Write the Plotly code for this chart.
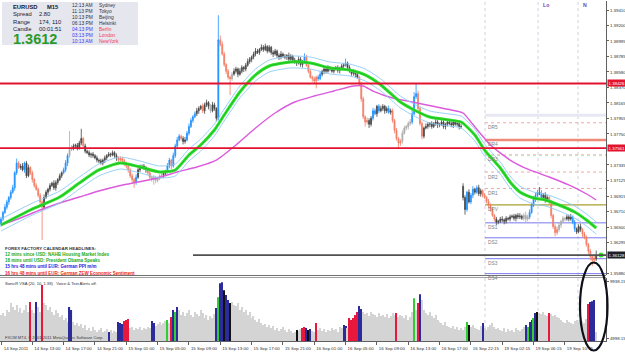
import plotly.graph_objects as go

# ---------------- data ----------------
close = [
    1.3661, 1.3670, 1.3677, 1.3684, 1.3690, 1.3697, 1.3703, 1.3723, 1.3736, 1.3730,
    1.3732, 1.3727, 1.3736, 1.3719, 1.3730, 1.3723, 1.3714, 1.3706, 1.3701, 1.3693,
    1.3684, 1.3677, 1.3690, 1.3697, 1.3701, 1.3706, 1.3709, 1.3703, 1.3710, 1.3714,
    1.3719, 1.3723, 1.3727, 1.3736, 1.3746, 1.3754, 1.3756, 1.3759, 1.3760, 1.3756,
    1.3763, 1.3769, 1.3759, 1.3752, 1.3750, 1.3747, 1.3748, 1.3746, 1.3743, 1.3740,
    1.3739, 1.3736, 1.3740, 1.3743, 1.3746, 1.3748, 1.3747, 1.3750, 1.3746, 1.3743,
    1.3740, 1.3742, 1.3739, 1.3736, 1.3732, 1.3727, 1.3719, 1.3714, 1.3710, 1.3717,
    1.3727, 1.3730, 1.3732, 1.3730, 1.3727, 1.3723, 1.3717, 1.3714, 1.3717, 1.3713,
    1.3715, 1.3719, 1.3720, 1.3722, 1.3724, 1.3732, 1.3740, 1.3732, 1.3746, 1.3759,
    1.3767, 1.3772, 1.3769, 1.3765, 1.3767, 1.3776, 1.3785, 1.3793, 1.3798, 1.3802,
    1.3806, 1.3809, 1.3812, 1.3806, 1.3814, 1.3817, 1.3812, 1.3806, 1.3814, 1.3809,
    1.3796, 1.3901, 1.3895, 1.3882, 1.3868, 1.3859, 1.3851, 1.3849, 1.3855, 1.3859,
    1.3862, 1.3855, 1.3859, 1.3864, 1.3862, 1.3867, 1.3872, 1.3875, 1.3878, 1.3882,
    1.3886, 1.3884, 1.3888, 1.3891, 1.3888, 1.3892, 1.3886, 1.3891, 1.3884, 1.3882,
    1.3886, 1.3880, 1.3878, 1.3882, 1.3879, 1.3878, 1.3880, 1.3875, 1.3879, 1.3874,
    1.3872, 1.3870, 1.3875, 1.3868, 1.3872, 1.3878, 1.3867, 1.3859, 1.3851, 1.3849,
    1.3846, 1.3851, 1.3849, 1.3855, 1.3859, 1.3862, 1.3859, 1.3864, 1.3862, 1.3859,
    1.3862, 1.3864, 1.3860, 1.3863, 1.3866, 1.3867, 1.3870, 1.3864, 1.3859, 1.3856,
    1.3859, 1.3855, 1.3851, 1.3842, 1.3822, 1.3798, 1.3791, 1.3793, 1.3788, 1.3796,
    1.3806, 1.3802, 1.3812, 1.3806, 1.3809, 1.3812, 1.3806, 1.3809, 1.3804, 1.3806,
    1.3793, 1.3780, 1.3769, 1.3763, 1.3765, 1.3776, 1.3783, 1.3785, 1.3789, 1.3791,
    1.3802, 1.3825, 1.3829, 1.3809, 1.3789, 1.3772, 1.3783, 1.3785, 1.3788, 1.3789,
    1.3785, 1.3789, 1.3791, 1.3787, 1.3788, 1.3791, 1.3785, 1.3788, 1.3791, 1.3789,
    1.3787, 1.3791, 1.3788, 1.3789, 1.3785, 1.3785, 1.3690, 1.3674, 1.3697, 1.3684,
    1.3693, 1.3701, 1.3697, 1.3703, 1.3695, 1.3699, 1.3693, 1.3690, 1.3685, 1.3680,
    1.3674, 1.3666, 1.3661, 1.3657, 1.3658, 1.3661, 1.3660, 1.3658, 1.3662, 1.3661,
    1.3664, 1.3665, 1.3662, 1.3666, 1.3664, 1.3665, 1.3662, 1.3666, 1.3661, 1.3664,
    1.3670, 1.3680, 1.3688, 1.3693, 1.3697, 1.3695, 1.3690, 1.3693, 1.3686, 1.3690,
    1.3684, 1.3666, 1.3651, 1.3643, 1.3647, 1.3653, 1.3658, 1.3662, 1.3661, 1.3664,
    1.3661, 1.3664, 1.3657, 1.3648, 1.3644, 1.3651, 1.3647, 1.3641, 1.3637, 1.3627,
    1.3618, 1.3611, 1.3606, 1.3608, 1.3613,
]
first_open = 1.3655
gap_open = {236: 1.3705}

wick_up_pips = [
    3, 2, 4, 3, 2, 3, 4, 2, 6, 3,   3, 4, 2, 3, 4, 2, 3, 2, 3, 2,
    3, 2, 4, 3, 2, 3, 2, 4, 3, 2,   3, 2, 3, 4, 3, 25, 4, 3, 2, 3,
    3, 13, 2, 3, 2, 3, 2, 3, 2, 3,  2, 3, 2, 3, 2, 3, 2, 3, 2, 3,
    2, 3, 2, 3, 2, 3, 2, 3, 2, 4,   3, 4, 2, 3, 2, 3, 4, 2, 3, 2,
    3, 2, 3, 2, 3, 4, 3, 2, 4, 3,   4, 3, 2, 3, 4, 3, 4, 3, 2, 3,
    4, 3, 2, 4, 3, 4, 2, 3, 4, 3,   2, 33, 6, 4, 3, 2, 3, 2, 3, 4,
    3, 2, 4, 3, 2, 3, 4, 3, 2, 3,   4, 3, 2, 4, 3, 4, 2, 3, 2, 3,
    3, 2, 3, 4, 2, 3, 2, 4, 3, 2,   3, 2, 4, 3, 2, 5, 3, 2, 3, 2,
    3, 2, 3, 4, 2, 3, 2, 3, 2, 3,   3, 2, 3, 2, 3, 3, 6, 2, 3, 2,
    3, 2, 3, 2, 3, 3, 2, 4, 3, 3,   4, 3, 2, 3, 4, 3, 2, 3, 4, 3,
    3, 2, 3, 2, 3, 4, 3, 2, 3, 4,   5, 6, 13, 4, 3, 3, 2, 4, 3, 2,
    3, 2, 4, 3, 2, 3, 4, 2, 3, 2,   3, 2, 3, 4, 2, 3, 4, 3, 2, 4,
    3, 4, 2, 3, 4, 3, 2, 3, 2, 3,   2, 3, 2, 3, 2, 3, 4, 2, 3, 2,
    3, 2, 3, 2, 3, 4, 2, 3, 5, 3,   4, 3, 4, 3, 3, 7, 5, 3, 4, 3,
    2, 3, 2, 3, 4, 3, 2, 3, 2, 3,   3, 4, 2, 3, 2, 3, 4, 2, 3, 2,
    2, 3, 2, 4, 6,
]
wick_dn_pips = [
    4, 3, 2, 3, 4, 3, 2, 4, 3, 2,   3, 2, 4, 3, 2, 3, 4, 3, 2, 3,
    4, 44, 3, 2, 4, 3, 2, 3, 4, 3,  2, 3, 2, 3, 4, 3, 2, 3, 4, 3,
    2, 3, 4, 3, 2, 3, 4, 3, 2, 3,   3, 2, 3, 4, 3, 2, 3, 2, 3, 4,
    3, 2, 3, 4, 3, 4, 3, 4, 7, 3,   2, 3, 2, 3, 4, 3, 2, 3, 7, 4,
    3, 2, 3, 4, 3, 2, 3, 4, 2, 3,   3, 2, 3, 4, 3, 2, 3, 2, 3, 2,
    3, 4, 2, 3, 4, 3, 4, 3, 2, 3,   4, 3, 3, 2, 3, 4, 3, 22, 3, 2,
    3, 4, 2, 3, 4, 3, 2, 3, 4, 3,   3, 2, 3, 2, 3, 2, 3, 2, 3, 4,
    2, 3, 4, 3, 2, 3, 4, 3, 2, 3,   3, 4, 2, 3, 4, 3, 2, 3, 2, 4,
    3, 10, 3, 2, 3, 4, 3, 2, 3, 2,  3, 2, 3, 4, 2, 3, 2, 3, 2, 3,
    3, 4, 2, 3, 4, 3, 6, 3, 5, 3,   3, 2, 4, 3, 2, 3, 4, 3, 2, 3,
    3, 4, 3, 8, 4, 3, 2, 3, 4, 3,   3, 2, 3, 4, 3, 4, 3, 2, 3, 4,
    3, 2, 3, 4, 3, 2, 3, 4, 3, 2,   3, 4, 2, 3, 4, 3, 4, 7, 3, 2,
    3, 4, 3, 2, 3, 4, 3, 2, 3, 4,   3, 2, 3, 4, 3, 2, 3, 4, 3, 2,
    3, 2, 3, 4, 3, 3, 2, 3, 4, 3,   3, 2, 3, 4, 3, 2, 3, 4, 3, 2,
    3, 4, 3, 5, 3, 3, 4, 2, 3, 2,   3, 2, 3, 4, 3, 2, 3, 4, 3, 3,
    4, 5, 8, 4, 3,
]
# candle colour class: b=blue, r=salmon, k=dark, g=grey
candle_style = "".join([
    "bbbbbbbbbr", "kkbkkrrrrr", "rrkkkkkkkk", "kkbbbggkkk", "kkrkkkkkkk",
    "kkkkkkkkkk", "rrrrrrrrrb", "kkkkkrrggg", "gggkkbbrbb", "bbrkkbbbbb",
    "kkkrkkkgkk", "kbrrrrrrgk", "kkkkkkkkkk", "kkkkkkkkkk", "kkkkkkkkkk",
    "kkkkkbrrrr", "rrbbkkkkkk", "kkkkkkbkkk", "kkkrrrrrkk", "bbkbkkkkbk",
    "rrrrrggggg", "bbbrrrkkkk", "kkkkkkkkkk", "kkkkkkkkbk", "bbkbkkrrrr",
    "rrrkkkkkkk", "kkkkkkkggg", "bbbbbkbkkk", "rrrrrggggk", "kkbbkkkrrr",
    "rrrrk",
])

# SonicR "dragon" (green, EMA-style) and trend line (magenta), read at sample bars
dragon_bars = [0, 15, 30, 40, 50, 61, 71, 81, 89, 96, 102, 109, 114, 122, 130, 137, 148, 158,
               168, 178, 186, 194, 204, 211, 219, 229, 235, 242, 247, 255, 260, 265, 272, 278,
               285, 293, 299, 304]
dragon_vals = [1.36531, 1.36732, 1.36906, 1.37093, 1.37268, 1.37361, 1.37308, 1.37241, 1.37268,
               1.37469, 1.37602, 1.37803, 1.38004, 1.38312, 1.38540, 1.38660, 1.38714, 1.38700,
               1.38634, 1.38607, 1.38540, 1.38406, 1.38178, 1.38071, 1.37977, 1.37937, 1.37910,
               1.37736, 1.37535, 1.37294, 1.37107, 1.36973, 1.36893, 1.36866, 1.36799, 1.36705,
               1.36598, 1.36491]
trend_bars = [0, 10, 20, 30, 40, 50, 60, 70, 80, 90, 100, 110, 120, 130, 140, 150, 160, 170,
              180, 185, 190, 200, 210, 220, 230, 236, 240, 250, 260, 270, 280, 290, 300, 304]
trend_vals = [1.36531, 1.36625, 1.36732, 1.36826, 1.36906, 1.36986, 1.37053, 1.37107, 1.37160,
              1.37241, 1.37308, 1.37401, 1.37602, 1.37830, 1.38031, 1.38178, 1.38258, 1.38325,
              1.38392, 1.38392, 1.38325, 1.38232, 1.38178, 1.38125, 1.38071, 1.38031, 1.37910,
              1.37602, 1.37401, 1.37268, 1.37174, 1.37067, 1.36933, 1.36866]

volume = [
    7010, 7180, 6920, 7440, 7270, 8050, 7700, 7440, 7880, 7270,
    7610, 7180, 7440, 7880, 7270, 8140, 7440, 7180, 8140, 7700,
    7270, 9620, 8050, 7880, 7440, 7700, 7270, 7010, 7440, 7180,
    6830, 7010, 6570, 6740, 6400, 7700, 7440, 6400, 6130, 6310,
    6050, 6220, 5870, 6130, 5700, 5870, 5610, 5960, 5700, 5530,
    5700, 5870, 5530, 5610, 5790, 5530, 5700, 5440, 5610, 5530,
    6400, 6310, 6220, 6480, 6570, 6660, 5870, 5960, 5700, 5870,
    5790, 5960, 5700, 5870, 5790, 5960, 5870, 6480, 6310, 6050,
    6220, 6400, 6130, 6310, 6480, 6570, 6310, 6830, 7440, 7270,
    7700, 7440, 7010, 7270, 6920, 7180, 7440, 7010, 6830, 7270,
    7090, 6920, 7440, 7180, 6740, 7010, 6570, 6920, 6740, 7090,
    7610, 8570, 9790, 9880, 9180, 8750, 8310, 8050, 8140, 7880,
    7790, 8050, 7440, 7700, 7270, 7440, 7010, 7270, 6740, 6920,
    6570, 6400, 6660, 6310, 6130, 6220, 5960, 6130, 5870, 6050,
    5700, 5870, 5610, 5790, 5960, 5700, 5530, 5790, 5610, 5440,
    5530, 5700, 5610, 5790, 5870, 5960, 5870, 5700, 5790, 5610,
    5530, 6310, 5700, 5870, 5610, 5790, 5530, 5700, 5610, 5870,
    5700, 5790, 5530, 5960, 5870, 6130, 6050, 5870, 6740, 6570,
    6740, 7010, 7270, 7790, 7530, 7270, 7090, 7180, 6920, 7270,
    7090, 7010, 6830, 7180, 6920, 7010, 6830, 7090, 6740, 6920,
    7180, 7010, 7180, 6830, 7010, 6920, 6740, 7010, 6570, 6830,
    7270, 8480, 7440, 8050, 8830, 8310, 7440, 7180, 7010, 7270,
    6920, 6740, 7010, 6570, 6400, 6310, 6130, 6400, 6050, 5960,
    5870, 6050, 5790, 5960, 5700, 5870, 5700, 5960, 6400, 6130,
    5960, 6130, 5870, 5790, 5700, 6050, 6310, 5870, 5700, 5960,
    6130, 6310, 5960, 5790, 5870, 5700, 5610, 5870, 5530, 5790,
    5610, 5700, 5530, 5870, 5700, 5610, 5790, 5960, 6130, 5960,
    6400, 6570, 6740, 7180, 7270, 7180, 7090, 7270, 7010, 6920,
    7180, 7090, 6920, 7010, 6830, 6740, 6570, 6400, 6310, 6570,
    6400, 6310, 6220, 6480, 6570, 6400, 6570, 6480, 6310, 6660,
    7960, 8140, 8220, 8310, 5530,
]
# volume colour class: g=grey, r=red, b=blue, G=green, k=black
volume_style = "".join([
    "gggggggggg", "gggggrggbg", "grgggggggg", "gggggbbggg", "gggggggggg",
    "gggggbgggg", "bbbrrrgggg", "gggggggbbg", "gggggGgrbG", "bggggggggg",
    "gggggggggg", "bGbbkbbkgg", "gggggggggg", "gggggggggg", "gggggggggg",
    "gkggrrbkbg", "grgggggggg", "gggggbbgrr", "rrrbbggggg", "gggggggggg",
    "ggrggggggg", "gGgrbggggg", "gggggggggg", "ggggggggGk", "ggggggbggg",
    "gggggggggg", "ggggggggbG", "bbGbkggggg", "rggggggggg", "gggggggggg",
    "rbbbg",
])

time_labels = ["14 Sep 2011", "14 Sep 13:00", "14 Sep 17:00", "14 Sep 21:00",
               "15 Sep 01:00", "15 Sep 05:00", "15 Sep 09:00", "15 Sep 13:00",
               "15 Sep 17:00", "15 Sep 21:00", "16 Sep 01:00", "16 Sep 05:00",
               "16 Sep 09:00", "16 Sep 13:00", "16 Sep 17:00", "16 Sep 22:15",
               "19 Sep 02:15", "19 Sep 06:15", "19 Sep 10:15"]
time_index = list(range(0, 289, 16))

price_ticks = [1.39410, 1.39200, 1.38995, 1.38785, 1.38580, 1.38370, 1.38165,
               1.37955, 1.37750, 1.37335, 1.37125, 1.36915, 1.36710, 1.36500,
               1.36295, 1.35880]
red_levels = [1.38426, 1.37561]
last_price = 1.36128
pivot_names = ["DR5", "DR4", "DR3", "DR2", "DR1", "DPV", "DS1", "DS2", "DS3", "DS4"]
pivot_values = [1.3790, 1.3767, 1.3747, 1.3724, 1.3702, 1.3680, 1.3656, 1.3636, 1.3608, 1.3588]
session_bars = [247.2, 274.3, 294.7]
session_names = ["", "Lo", "N"]
vol_top_label, vol_bottom_label = 9938.15, 4998.15

n = len(close)
assert len(wick_up_pips) == n and len(wick_dn_pips) == n
assert len(candle_style) == n and len(volume) == n and len(volume_style) == n
assert len(dragon_bars) == len(dragon_vals) and len(trend_bars) == len(trend_vals)

# ---------------- derived ----------------
opens = [first_open] + close[:-1]
for k, v in gap_open.items():
    opens[k] = v
highs = [max(o, c) + u / 10000 for o, c, u in zip(opens, close, wick_up_pips)]
lows = [min(o, c) - d / 10000 for o, c, d in zip(opens, close, wick_dn_pips)]
band = 0.0008

H = 340.0
def py(ypix):
    return (341 - ypix) / H
def px(xpix):
    return xpix / 606.0

fig = go.Figure()
idx = list(range(n))

# trend line and dragon
fig.add_trace(go.Scatter(x=trend_bars, y=trend_vals, mode="lines", line=dict(color="#DC5ADC", width=1.4, shape="spline", smoothing=0.6), hoverinfo="skip"))
for off in (band, -band):
    fig.add_trace(go.Scatter(x=dragon_bars, y=[v + off for v in dragon_vals], mode="lines",
                             line=dict(color="#8CCBF5", width=0.9, shape="spline", smoothing=0.6), hoverinfo="skip"))
fig.add_trace(go.Scatter(x=dragon_bars, y=dragon_vals, mode="lines", line=dict(color="#2EE22E", width=3.0, shape="spline", smoothing=0.6), hoverinfo="skip"))
fig.add_trace(go.Scatter(x=dragon_bars, y=dragon_vals, mode="lines", line=dict(color="#1A9E1A", width=0.6, shape="spline", smoothing=0.6), hoverinfo="skip"))

# pivot lines
piv_style = {"DR5": ("#F2A8A8", 1, "dot"), "DR4": ("#F08A78", 2.6, "solid"), "DR3": ("#F2A8A8", 1, "dot"),
             "DR2": ("#F2A8A8", 1, "dot"), "DR1": ("#F2A8A8", 1, "dot"), "DPV": ("#A8A030", 1.2, "solid"),
             "DS1": ("#7878EE", 1, "solid"), "DS2": ("#7878EE", 1, "solid"), "DS3": ("#7878EE", 1, "solid"),
             "DS4": ("#7878EE", 1, "solid")}
shapes = []
for name, val in zip(pivot_names, pivot_values):
    col, w, dash = piv_style[name]
    shapes.append(dict(type="line", xref="x", yref="y", x0=session_bars[0], x1=309, y0=val, y1=val,
                       line=dict(color=col, width=w, dash=dash), layer="below"))
shapes.append(dict(type="line", xref="x", yref="y", x0=session_bars[0], x1=309, y0=1.3800, y1=1.3800,
                   line=dict(color="#E8E8F4", width=3), layer="below"))
shapes.append(dict(type="line", xref="x", yref="y", x0=session_bars[0], x1=309, y0=1.3746, y1=1.3746,
                   line=dict(color="#B8E8B8", width=1, dash="dot"), layer="below"))

# candles
candle_colors = {"b": "#1E90FF", "r": "#F27C64", "k": "#454545", "g": "#ABABAB"}
for cls, col in candle_colors.items():
    ii = [i for i in range(n) if candle_style[i] == cls]
    fig.add_trace(go.Candlestick(
        x=ii, open=[opens[i] for i in ii], high=[highs[i] for i in ii],
        low=[lows[i] for i in ii], close=[close[i] for i in ii],
        increasing=dict(line=dict(color=col, width=0.8), fillcolor=col),
        decreasing=dict(line=dict(color=col, width=0.8), fillcolor=col),
        whiskerwidth=0, hoverinfo="skip", xaxis="x", yaxis="y"))

fig.add_trace(go.Scatter(x=[306.4], y=[last_price], mode="markers",
                         marker=dict(color="#22EE22", size=5), hoverinfo="skip"))

# volume
vol_colors = {"g": "#D4D4D4", "r": "#E8183C", "b": "#2B2B9C", "G": "#33CC33", "k": "#111111"}
fig.add_trace(go.Bar(x=idx, y=volume, marker=dict(color=[vol_colors[s] for s in volume_style], line=dict(width=0)),
                     width=0.6, xaxis="x2", yaxis="y2", hoverinfo="skip"))

for lv in red_levels:
    shapes.append(dict(type="line", xref="paper", yref="y", x0=0, x1=1, y0=lv, y1=lv,
                       line=dict(color="#E3122F", width=1.8)))
shapes.append(dict(type="line", xref="paper", yref="y", x0=px(193), x1=1, y0=last_price, y1=last_price,
                   line=dict(color="#505050", width=1.6)))
for sb in session_bars:
    shapes.append(dict(type="line", xref="x", yref="paper", x0=sb, x1=sb, y0=0, y1=1,
                       line=dict(color="#C4C4D4", width=0.8, dash="dot"), layer="below"))
shapes.append(dict(type="line", xref="paper", yref="paper", x0=0, x1=1, y0=py(275.5), y1=py(275.5),
                   line=dict(color="#707070", width=1)))
shapes.append(dict(type="line", xref="paper", yref="paper", x0=0, x1=1, y0=py(277.5), y1=py(277.5),
                   line=dict(color="#A0A0A0", width=1)))
shapes.append(dict(type="rect", xref="paper", yref="paper", x0=px(2), x1=px(138), y0=py(45), y1=py(2),
                   fillcolor="#E6E6EF", line=dict(width=0), layer="above"))
shapes.append(dict(type="circle", xref="paper", yref="paper", x0=px(580), x1=px(607.5), y0=py(350.5), y1=py(262.5),
                   line=dict(color="#101018", width=2.2)))

ann = []
def text(xp, yp, s, size, color, bold=False, anchor="left", xref="paper", yref="paper", **kw):
    ann.append(dict(x=xp, y=yp, xref=xref, yref=yref, text=("<b>%s</b>" % s) if bold else s,
                    showarrow=False, xanchor=anchor, yanchor="middle",
                    font=dict(size=size, color=color, family="Arial"), **kw))

text(px(11), py(6.5), "EURUSD", 5.8, "#151525", bold=True)
text(px(45), py(6.5), "M15", 5.8, "#151525", bold=True)
for yy, lab, val in [(14.5, "Spread", "2.80"), (21.5, "Range", "174, 110"), (28.5, "Candle", "00:01:51")]:
    text(px(11), py(yy), lab, 5.8, "#202030")
    text(px(37), py(yy), val, 5.8, "#202030")
text(px(10.5), py(38.5), "1.3612", 14.5, "#2A9A2A", bold=True)
clock_rows = [("12:13 AM", "Sydney"), ("11:13 PM", "Tokyo"), ("10:13 PM", "Beijing"), ("06:13 PM", "Helsinki"),
              ("04:13 PM", "Berlin"), ("03:13 PM", "London"), ("10:13 AM", "NewYork")]
for k, (t, c) in enumerate(clock_rows):
    yy = 6 + k * 5.85
    tc, cc = ("#303040", "#303040") if k < 4 else ("#3A3AF0", "#F03A5A")
    text(px(70), py(yy), t, 4.9, tc)
    text(px(97), py(yy), c, 4.9, cc)

text(px(3), py(248), "FOREX FACTORY CALENDAR HEADLINES:", 4.4, "#333340", bold=True)
cal = [("12 mins since USD: NAHB Housing Market Index", "#22AA22"),
       ("18 mins until USD: President Obama Speaks", "#22AA22"),
       ("15 hrs 48 mins until EUR: German PPI m/m", "#2222DD"),
       ("16 hrs 48 mins until EUR: German ZEW Economic Sentiment", "#EE2222")]
for k, (s, c) in enumerate(cal):
    text(px(3), py(254.3 + k * 6.3), s, 4.5, c, bold=True)

text(px(3), py(283), "SonicR VSA (20, 10, 1.38)&nbsp;&nbsp;&nbsp;Voice &amp; Text Alerts off.", 4.1, "#303030")
text(px(3), py(337.5), "FXCM MT4, © 2001-2011 MetaQuotes Software Corp.", 4.1, "#404040")

for name, val in zip(pivot_names, pivot_values):
    ann.append(dict(x=session_bars[0] + 0.3, y=val, xref="x", yref="y", text=name, showarrow=False,
                    xanchor="left", yanchor="top", yshift=-0.5,
                    font=dict(size=4.8, color="#808080", family="Arial")))
for sb, nm in zip(session_bars, session_names):
    if nm:
        ann.append(dict(x=sb + 1.5, y=py(5), xref="x", yref="paper", text="<b>%s</b>" % nm, showarrow=False,
                        xanchor="left", yanchor="middle", font=dict(size=5.2, color="#6A44B8", family="Arial")))
for lv in red_levels:
    ann.append(dict(x=1, y=lv, xref="paper", yref="y", text="%.5f" % lv, showarrow=False, xanchor="left",
                    xshift=1, yanchor="middle", bgcolor="#E3122F", borderpad=0.6,
                    font=dict(size=4.4, color="white", family="Arial")))
ann.append(dict(x=1, y=last_price, xref="paper", yref="y", text="%.5f" % last_price, showarrow=False,
                xanchor="left", xshift=1, yanchor="middle", bgcolor="#1E1E28", borderpad=0.6,
                font=dict(size=4.4, color="white", family="Arial")))

axis_font = dict(size=4.4, color="#303030", family="Arial")
fig.update_layout(
    width=625, height=352, margin=dict(l=0, r=19, t=1, b=11),
    paper_bgcolor="white", plot_bgcolor="white", showlegend=False,
    xaxis=dict(domain=[0, 1], anchor="y", range=[-0.51, 309.0], showticklabels=False, showgrid=False,
               zeroline=False, rangeslider=dict(visible=False), ticks="", showline=False, fixedrange=True),
    yaxis=dict(domain=[py(275), 1], range=[1.358617, 1.395305], side="right", tickvals=price_ticks,
               ticktext=["%.5f" % v for v in price_ticks], tickfont=axis_font, ticks="outside", ticklen=2,
               tickcolor="#606060", showgrid=False, zeroline=False, showline=True, linecolor="#606060",
               linewidth=1),
    xaxis2=dict(domain=[0, 1], anchor="y2", matches="x", tickvals=time_index, ticktext=time_labels,
                ticklabelshift=15, ticks="outside", ticklen=3, tickcolor="#606060", tickfont=axis_font,
                showline=True, linecolor="#606060", linewidth=1, showgrid=False, zeroline=False),
    yaxis2=dict(domain=[0, py(277.5)], range=[4738.1, 10284.8], side="right",
                tickvals=[vol_top_label, vol_bottom_label], ticktext=["%.2f" % vol_top_label, "%.2f" % vol_bottom_label],
                tickfont=axis_font, ticks="outside", ticklen=2, tickcolor="#606060", showgrid=False,
                zeroline=False, showline=True, linecolor="#606060", linewidth=1),
    shapes=shapes, annotations=ann,
)
fig.write_html("out.html")
